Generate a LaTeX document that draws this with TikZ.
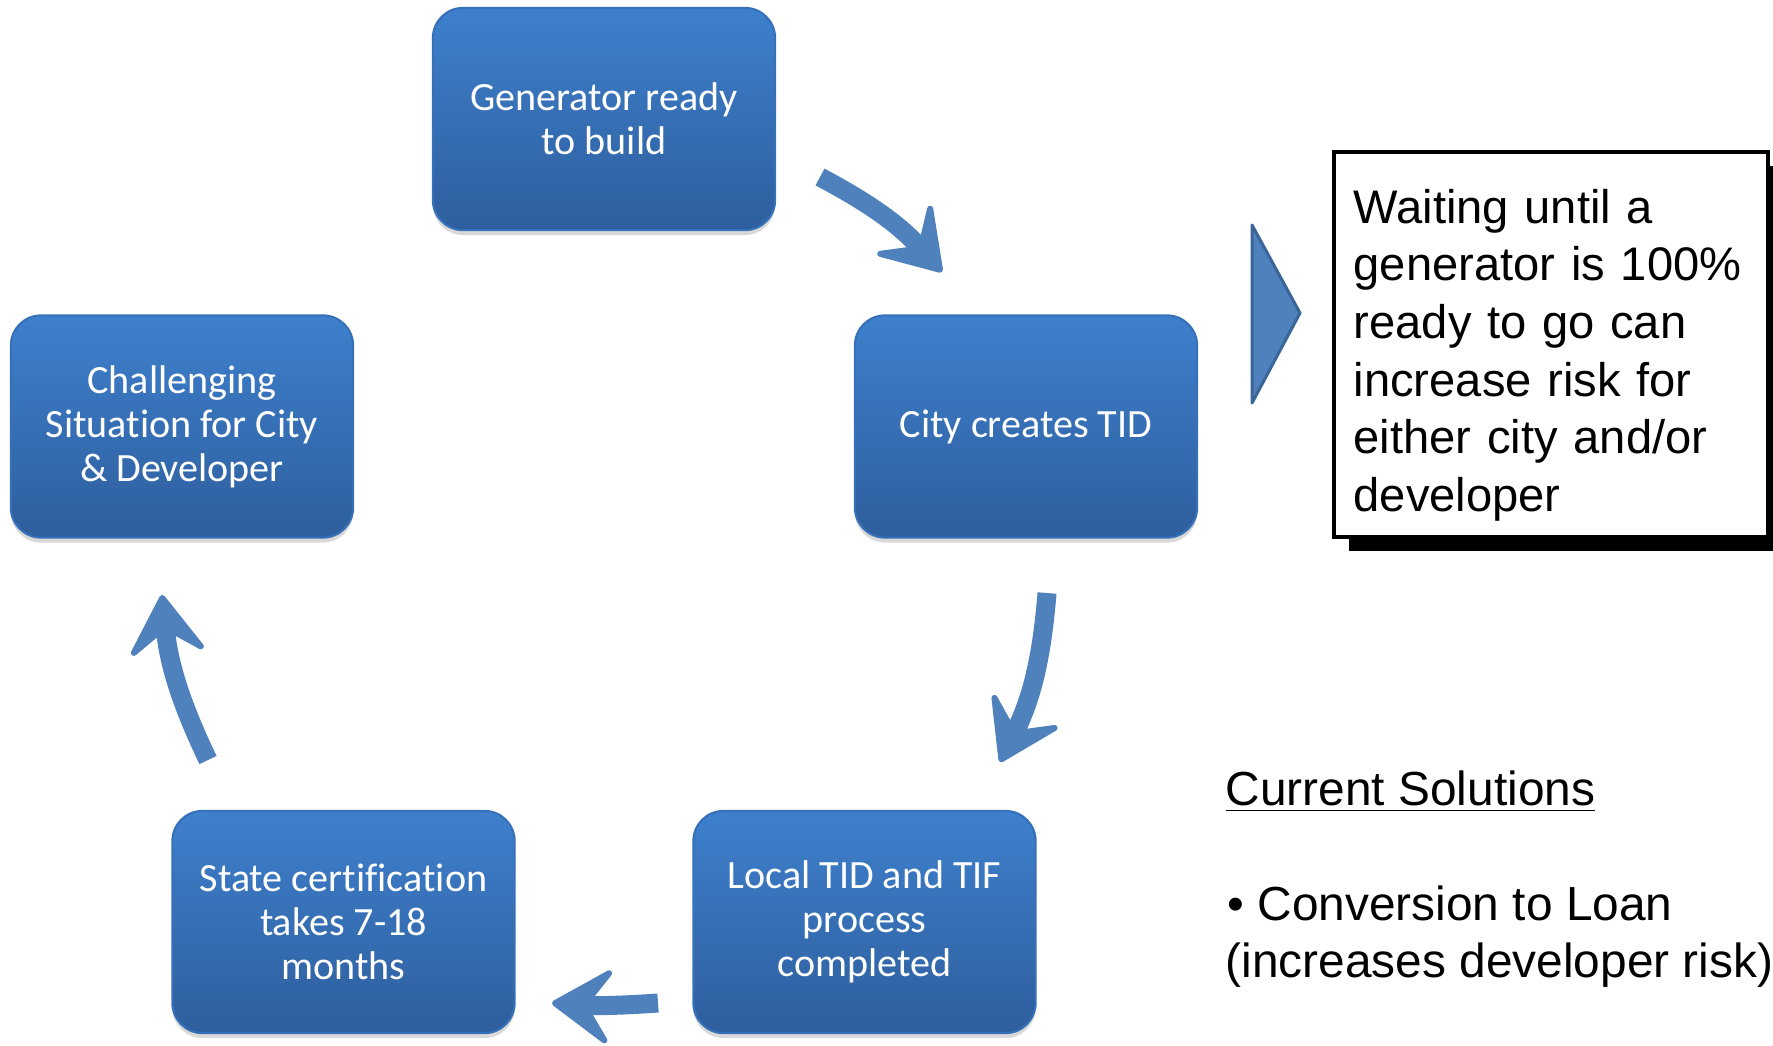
\documentclass[tikz,border=0pt]{standalone}
\usepackage{fontspec}
\setmainfont{Liberation Sans}
\newfontfamily\stagefont[Ligatures=NoCommon]{Carlito}
\usetikzlibrary{arrows.meta}
\usetikzlibrary{shadows}
\definecolor{stagetop}{HTML}{3E80CD}
\definecolor{stagebot}{HTML}{2E5E9D}
\definecolor{stageedge}{HTML}{3570B8}
\definecolor{flowblue}{HTML}{4F81BD}
\definecolor{flowedge}{HTML}{3A6598}
\tikzset{
  stage/.style={rectangle, rounded corners=0.3cm, minimum width=3.42cm, minimum height=2.22cm,
    top color=stagetop, bottom color=stagebot, draw=stageedge, line width=0.6pt,
    text=white, align=center, font=\stagefont\fontsize{11.4}{12.5}\selectfont,
    drop shadow={opacity=0.3, shadow xshift=0cm, shadow yshift=-0.05cm}},
  flow/.style={draw=flowblue, line width=0.19cm,
    -{Stealth[length=0.68cm, width=0.88cm, inset=0.3cm, round, line width=0.06cm]}},
  sidetext/.style={inner sep=0pt, align=left, font=\fontsize{13.4}{16.4}\selectfont},
  soltext/.style={inner sep=0pt, align=left, font=\fontsize{13.6}{16.4}\selectfont}
}

\begin{document}
\begin{tikzpicture}[x=0.01cm,y=-0.01cm]
        \useasboundingbox (0,0) rectangle (1773,1045);
        \node[stage] (gen) at (604,119) {Generator ready\\to build};
        \node[stage] (city) at (1026,426.5) {City creates TID};
        \node[stage] (chal) at (182,426.5) {Challenging\\Situation for City\\\& Developer};
        \node[stage] (state) at (343.5,922) {State certification\\takes 7-18\\months};
        \node[stage] (local) at (864.5,922) {Local TID and TIF\\process\\completed};
        \coordinate (gen-out) at (820,177);
        \coordinate (city-in) at (942,272);
        \coordinate (city-out) at (1047,593);
        \coordinate (local-in) at (1000,762);
        \coordinate (local-out) at (658,1003);
        \coordinate (state-in) at (552,1003);
        \coordinate (state-out) at (208,760);
        \coordinate (chal-in) at (162,595);
        \draw[flow] (gen-out) to[bend left=10] (city-in);
        \draw[flow] (city-out) to[bend left=11] (local-in);
        \draw[flow] (local-out) to[bend left=4] (state-in);
        \draw[flow] (state-out) to[bend left=10] (chal-in);
        \draw[fill=flowblue, draw=flowedge, line width=0.03cm, line join=round]
          (1252,225) -- (1300,313) -- (1252,403) -- cycle;
        \fill[black] (1349,166) rectangle (1773,551);
        \node[draw=black, fill=white, line width=0.04cm, minimum width=4.34cm, minimum height=3.85cm,
          anchor=north west] (note) at (1332,150) {};
        \node[sidetext, text width=4cm, anchor=base west] (notetext) at (1353,223)
          {Waiting until a\\generator is 100\%\\ready to go can\\increase risk for\\either city and/or\\developer};
        \node[soltext, anchor=base west] (sol) at (1225,805) {\underline{Current Solutions}};
        \node[soltext, anchor=base west] (loan) at (1227,920) {\textbullet{} Conversion to Loan};
        \node[soltext, anchor=base west] (risk) at (1225,977) {(increases developer risk)};
\end{tikzpicture}
\end{document}
